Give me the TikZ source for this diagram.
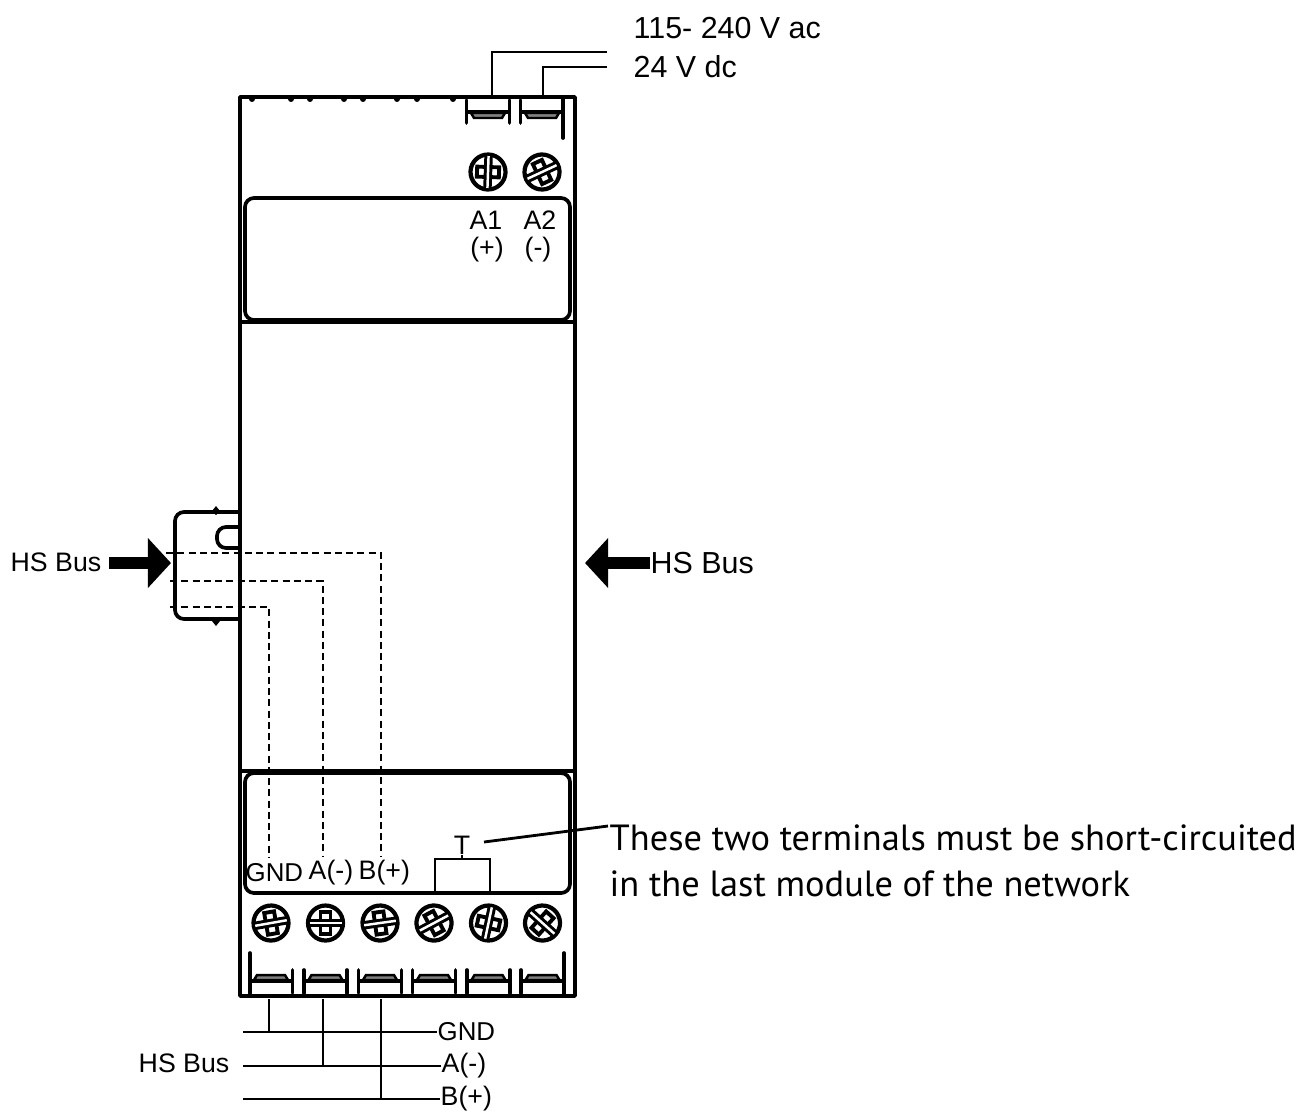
\documentclass[tikz,border=0pt]{standalone}
\usepackage{fontspec}
\setmainfont{Liberation Sans}
\newfontfamily\notefont{PT Sans}
\usetikzlibrary{arrows.meta}
\tikzset{
	body/.style={line width=1.05pt, line join=round, line cap=round},
	panel/.style={body, rounded corners=0.9mm},
	wire/.style={line width=0.45pt},
	hidden/.style={line width=0.4pt, dash pattern=on 2pt off 1.2pt},
	busarrow/.style={line width=3.4pt, -{Triangle[length=6.6pt,width=13.9pt]}, shorten >=0pt},
	small/.style={inner sep=0, font=\fontsize{7.6}{9}\selectfont},
	gndtext/.style={inner sep=0, font=\fontsize{7.35}{9}\selectfont},
	big/.style={inner sep=0, font=\fontsize{8.65}{10}\selectfont},
	note/.style={inner sep=0, align=left, font=\notefont\fontsize{10.35}{13}\selectfont},
	screw/.pic={
		\draw[line width=1.2pt] (0,0) circle (17.5);
		\draw[line width=1.1pt, fill=white] (-5,-11) rectangle (5,11);
		\draw[line width=2.4pt] (-17,0) -- (17,0);
		\draw[line width=0.7pt, white] (-16,0) -- (16,0);
	},
	clamp/.pic={
		\draw[body] (-21.5,-3) -- (-21.5,-26) (21.5,-3) -- (21.5,-26);
		\draw[line width=1pt] (-21.5,-15) -- (21.5,-15);
		\filldraw[line width=0.7pt, fill=gray] (-17,-16) -- (-14,-21) -- (14,-21) -- (17,-16) -- cycle;
	},
}
\begin{document}
\begin{tikzpicture}[x=0.01cm,y=-0.01cm]
	\useasboundingbox (0,0) rectangle (1298,1112);

	% housing
	\draw[body] (240,97) rectangle (575,996);
	\draw[body] (240,322) -- (575,322);
	\draw[body] (240,771) -- (575,771);
	\draw[panel] (245,198) rectangle (570,320);
	\draw[panel] (245,773) rectangle (570,893);
	\foreach \x in {252,291,310,344,363,397,417,453}
		\fill (\x,99) circle (3);

	% din clip on the left
	\draw[panel] (240,512) -- (175,512) -- (175,619) -- (240,619);
	\draw[panel] (240,527) -- (217,527) -- (217,548) -- (240,548);
	\fill (216,506) -- (220,511) -- (216,515) -- (212,511) -- cycle;
	\fill (216,626) -- (220,621) -- (216,617) -- (212,621) -- cycle;

	% terminals
	\foreach \x/\a in {488/88,542/25}{
		\pic[yscale=-1] at (\x,97) {clamp};
		\pic[rotate=\a] at (\x,172) {screw};
	}
	\foreach \x/\a in {271/10,325.5/0,380/8,434/28,488.5/78,542.5/-42}{
		\pic at (\x,996) {clamp};
		\pic[rotate=\a] at (\x,923) {screw};
	}
	\draw[body] (563,97) -- (563,138);
	\draw[body] (250,993) -- (250,953);
	\draw[body] (564,993) -- (564,953);

	% supply
	\node[big, anchor=west] (ac) at (633,28) {115- 240 V ac};
	\node[big, anchor=west] (dc) at (633,67) {24 V dc};
	\coordinate (acend) at (607,52);
	\coordinate (dcend) at (607,67);
	\coordinate (aone) at (492,97);
	\coordinate (atwo) at (543,97);
	\draw[wire] (aone) |- (acend);
	\draw[wire] (atwo) |- (dcend);
	\node[small] (aonelabel) at (486,220) {A1};
	\node[small] (atwolabel) at (540,220) {A2};
	\node[small] (plus) at (487,250) {(+)};
	\node[small] (minus) at (538,250) {(-)};

	% bus arrows
	\node[small, anchor=west] (busleft) at (10,562) {HS Bus};
	\node[big, anchor=west] (busright) at (650,563) {HS Bus};
	\coordinate (lefttip) at (171,563);
	\coordinate (righttip) at (585,563);
	\draw[busarrow] (109,563) -- (lefttip);
	\draw[busarrow] (busright.west) -- (righttip);

	% hidden wiring
	\node[gndtext, anchor=west] (gnd) at (245,873) {GND};
	\node[small, anchor=west] (aminus) at (308,873) {A(-)};
	\node[small, anchor=west] (bplus) at (358,873) {B(+)};
	\coordinate (gndin) at (170,607);
	\coordinate (ain) at (170,581);
	\coordinate (bin) at (166,553);
	\draw[hidden] (gndin) -| (269,857);
	\draw[hidden] (ain) -| (323,857);
	\draw[hidden] (bin) -| (381,857);

	% termination
	\node[small] (term) at (462,845) {T};
	\coordinate (tleft) at (435,892);
	\coordinate (tright) at (490,892);
	\draw[wire] (tleft) |- (462,859) -| (tright);
	\draw[wire] (462,859) -- (term.south);
	\node[note, anchor=west] (notetext) at (609,861) {These two terminals must be short-circuited\\in the last module of the network};
	\coordinate (notestart) at (484,842);
	\coordinate (noteend) at (608,826);
	\draw[line width=0.8pt] (notestart) -- (noteend);

	% bus below
	\node[small, anchor=west] (busbelow) at (138,1063) {HS Bus};
	\node[gndtext, anchor=west] (gndb) at (437,1032) {GND};
	\node[small, anchor=west] (ab) at (441,1066) {A(-)};
	\node[small, anchor=west] (bb) at (440,1099) {B(+)};
	\coordinate (gstart) at (243,1032);
	\coordinate (astart) at (243,1066);
	\coordinate (bstart) at (243,1099);
	\draw[wire] (gstart) -- (gndb.west);
	\draw[wire] (astart) -- (ab.west);
	\draw[wire] (bstart) -- (bb.west);
	\draw[wire] (269,999) -- (269,1032);
	\draw[wire] (323,999) -- (323,1066);
	\draw[wire] (381,999) -- (381,1099);
\end{tikzpicture}
\end{document}
